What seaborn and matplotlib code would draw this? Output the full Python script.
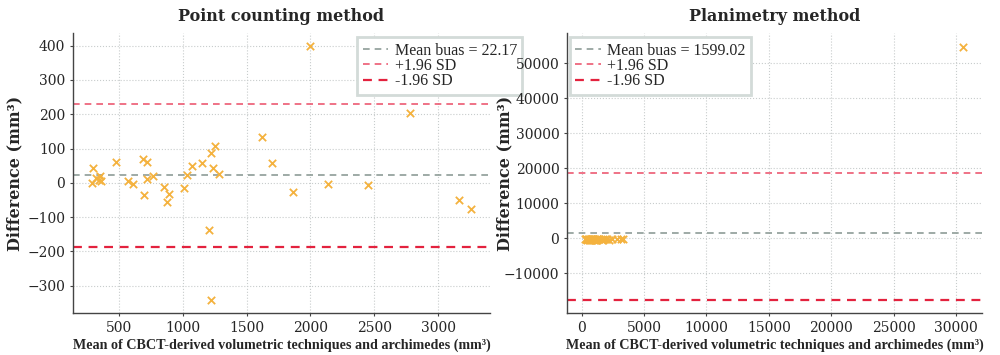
import matplotlib
matplotlib.use("Agg")
import matplotlib.pyplot as plt
import seaborn as sns
import pandas as pd

# point counting: mean of methods vs difference (mm3)
pc_mean = [290, 300, 320, 340, 355, 360, 476, 570, 610, 690, 694, 720, 720, 765,
           850, 880, 895, 1010, 1030, 1070, 1148, 1205, 1221, 1225, 1240, 1252,
           1284, 1620, 1700, 1866, 1997, 2135, 2454, 2780, 3168, 3256]
pc_diff = [0, 43, 14, 8, 20, 5, 60, 5, -4, 70, -35, 60, 12, 20,
           -13, -55, -32, -15, 24, 48, 59, -139, 87, -343, 43, 107,
           26, 135, 57, -26, 400, -3, -6, 205, -50, -75]
pc_bias = 22.17
pc_upper = 230
pc_lower = -187

# planimetry: same layout, one big outlier
pl_mean = [300, 330, 360, 420, 480, 560, 600, 650, 700, 720, 760, 800, 850,
           880, 900, 950, 1000, 1050, 1100, 1150, 1200, 1230, 1260, 1300,
           1400, 1600, 1700, 1850, 2000, 2150, 2450, 2800, 3150, 3300, 30580]
pl_diff = [-200, -350, -100, -450, -300, -250, -500, -150, -400, -600, -200,
           -350, -450, -300, -100, -550, -250, -400, -200, -650, -300, -500,
           -150, -350, -250, -450, -150, -300, -200, -400, -250, -350, -300,
           -200, 54660]
pl_bias = 1599.02
pl_upper = 18660
pl_lower = -17710

sns.set_style("whitegrid")
plt.rcParams["font.family"] = ["DejaVu Serif", "DejaVu Sans"]
lab_font = ["Liberation Serif", "DejaVu Serif"]

fig = plt.figure(figsize=(10, 3.55), dpi=100)
ax1 = fig.add_axes([0.073, 0.118, 0.417, 0.789])
ax2 = fig.add_axes([0.567, 0.118, 0.415, 0.789])

panels = [
    (ax1, pc_mean, pc_diff, pc_bias, pc_upper, pc_lower, "Point counting method",
     (140, 3407), (-380, 437), (0.681, 0.985)),
    (ax2, pl_mean, pl_diff, pl_bias, pl_upper, pl_lower, "Planimetry method",
     (-1180, 32080), (-21400, 58570), (0.007, 0.985)),
]

for ax, xm, yd, bias, up, lo, title, xl, yl, anchor in panels:
    df = pd.DataFrame({"mean": xm, "diff": yd})
    sns.scatterplot(data=df, x="mean", y="diff", ax=ax, marker="x", s=28,
                    color="#f4b23e", linewidth=1.3, zorder=3)
    ax.axhline(bias, color="#8e9c97", ls=(0, (4, 3)), lw=1.2,
               label=f"Mean buas = {bias:.2f}")
    ax.axhline(up, color="#ec5a72", ls=(0, (4, 3)), lw=1.2, label="+1.96 SD")
    ax.axhline(lo, color="#e3223e", ls=(0, (4, 3)), lw=1.6, label="-1.96 SD")
    ax.set_xlim(*xl)
    ax.set_ylim(*yl)
    ax.set_title(title, fontsize=11.5, fontweight="bold", pad=9)
    ax.set_xlabel("Mean of CBCT-derived volumetric techniques and archimedes (mm³)",
                  fontsize=10.2, fontweight="bold", family=lab_font, labelpad=3)
    ax.set_ylabel("Difference (mm³)", fontsize=11.5, fontweight="bold")
    ax.grid(True, ls=":", color="#c8cccc", lw=0.8)
    for s in ["top", "right"]:
        ax.spines[s].set_visible(False)
    for s in ["left", "bottom"]:
        ax.spines[s].set_color("#444444")
        ax.spines[s].set_linewidth(1.0)
    ax.tick_params(axis="both", labelsize=10, length=2, color="#444444",
                   left=True, bottom=True)
    leg = ax.legend(loc="upper left", bbox_to_anchor=anchor, borderaxespad=0,
                    prop={"family": lab_font, "size": 11.5},
                    handlelength=1.6, handletextpad=0.4, labelspacing=-0.05,
                    borderpad=0.35, framealpha=1, fancybox=False)
    leg.get_frame().set_edgecolor("#d3dbd8")
    leg.get_frame().set_linewidth(2)

ax1.set_xticks([500, 1000, 1500, 2000, 2500, 3000])
ax1.set_yticks([-300, -200, -100, 0, 100, 200, 300, 400])
ax2.set_xticks([0, 5000, 10000, 15000, 20000, 25000, 30000])
ax2.set_yticks([-10000, 0, 10000, 20000, 30000, 40000, 50000])
ax1.yaxis.set_label_coords(-0.118, 0.5)
ax2.yaxis.set_label_coords(-0.13, 0.5)

fig.savefig("out.png", dpi=100)
